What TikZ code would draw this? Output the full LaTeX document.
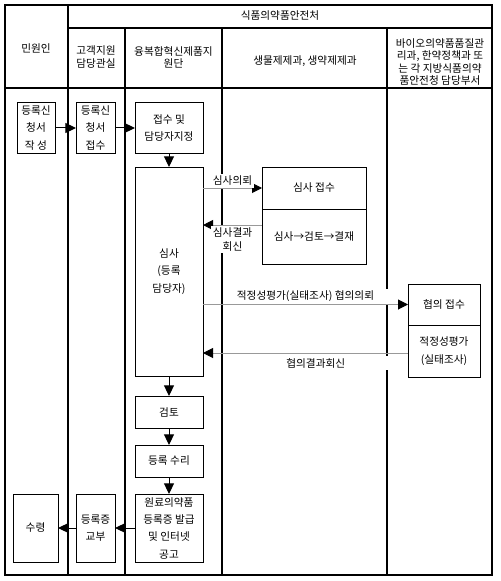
\documentclass[tikz,border=0pt]{standalone}
\usepackage{fontspec}
\setmainfont{Noto Sans CJK KR}
\usetikzlibrary{positioning, calc, arrows.meta}

\begin{document}
\begin{tikzpicture}[x=0.75pt, y=-0.75pt, line width=0.75pt,
lane/.style={draw=black, line width=0.8pt},
stage/.style={rectangle, draw=black, align=center, inner sep=1pt, outer sep=0pt, font=\fontsize{8}{13}\selectfont},
head/.style={align=center, inner sep=0pt, font=\fontsize{8}{9.2}\selectfont},
note/.style={fill=white, align=center, inner sep=1.5pt, font=\fontsize{8}{10.5}\selectfont},
flow/.style={draw=black, -{Triangle[length=8pt, width=7.5pt]}},
ask/.style={draw=black!40, -{Triangle[length=7.5pt, width=7.5pt, color=black]}} ]
\useasboundingbox (0,0) rectangle (500,581);

% swimlanes
\draw[lane] (5,5) rectangle (492,575);
\draw[lane] (68,28) -- (492,28);
\draw[lane] (5,88) -- (492,88);
\draw[lane] (68,5) -- (68,575);
\draw[lane] (125,28) -- (125,575);
\draw[lane] (222,28) -- (222,575);
\draw[lane] (387,28) -- (387,575);

\node (office) [head] at (280,16) {식품의약품안전처};
\node (civil) [head] at (36,48) {민원인};
\node (cs) [head] at (96,57) {고객지원\\담당관실};
\node (conv) [head] at (173.5,57) {융복합혁신제품지\\원단};
\node (bio) [head] at (305,61) {생물제제과, 생약제제과};
\node (qual) [head] at (440,62) {바이오의약품품질관\\리과, 한약정책과 또\\는 각 지방식품의약\\품안전청 담당부서};

% main flow
\node (write) [stage, minimum width=28.5pt, minimum height=37.5pt] at (36,128) {등록신\\청서\\작 성};
\node (recv) [stage, minimum width=29.25pt, minimum height=37.5pt, right=15.75pt of write] {등록신\\청서\\접수};
\node (assign) [stage, minimum width=51pt, minimum height=37.5pt, right=15pt of recv] {접수 및\\담당자지정};
\node (review) [stage, minimum width=51pt, minimum height=156.75pt, below=10.5pt of assign] {심사\\(등록\\담당자)};
\node (check) [stage, minimum width=51pt, minimum height=24pt, below=15pt of review] {검토};
\node (accept) [stage, minimum width=51pt, minimum height=24pt, below=12.75pt of check] {등록 수리};
\node (issue) [stage, minimum width=51pt, minimum height=51pt, below=12.75pt of accept] {원료의약품\\등록증 발급\\및 인터넷\\공고};
\node (hand) [stage, minimum width=29.25pt, minimum height=51pt, left=15pt of issue] {등록증\\교부};
\node (take) [stage, minimum width=33.75pt, minimum height=51pt, left=13.5pt of hand] {수령};

% review and evaluation
\node (sreq) [stage, minimum width=78pt, minimum height=31.5pt] at (314,188) {심사 접수};
\node (srev) [stage, minimum width=78pt, minimum height=41.25pt, below=0pt of sreq] {심사→검토→결재};
\node (agr) [stage, minimum width=54pt, minimum height=30.75pt] at (444,304.5) {협의 접수};
\node (eval) [stage, minimum width=54pt, minimum height=39pt, below=0pt of agr] {적정성평가\\(실태조사)};

\path (write) edge[flow] (recv);
\path (recv) edge[flow] (assign);
\path (assign) edge[flow] (review);
\path (review) edge[flow] (check);
\path (check) edge[flow] (accept);
\path (accept) edge[flow] (issue);
\path (issue) edge[flow] (hand);
\path (hand) edge[flow] (take);

\draw[ask] (review.east |- sreq.west) -- node[note, above] {심사의뢰} (sreq.west);
\draw[ask] ([yshift=8.6pt]srev.west) -- node[note, below] {심사결과\\회신} ([yshift=8.6pt]srev.west -| review.east);
\draw[ask] (review.east |- agr.west) -- node[note, above, minimum width=124pt] {적정성평가(실태조사) 협의의뢰} (agr.west);
\draw[ask] ([yshift=-1.5pt]eval.west) -- node[note, below=2pt, pos=0.45, minimum width=124pt] {협의결과회신} ([yshift=-1.5pt]eval.west -| review.east);
\end{tikzpicture}
\end{document}
